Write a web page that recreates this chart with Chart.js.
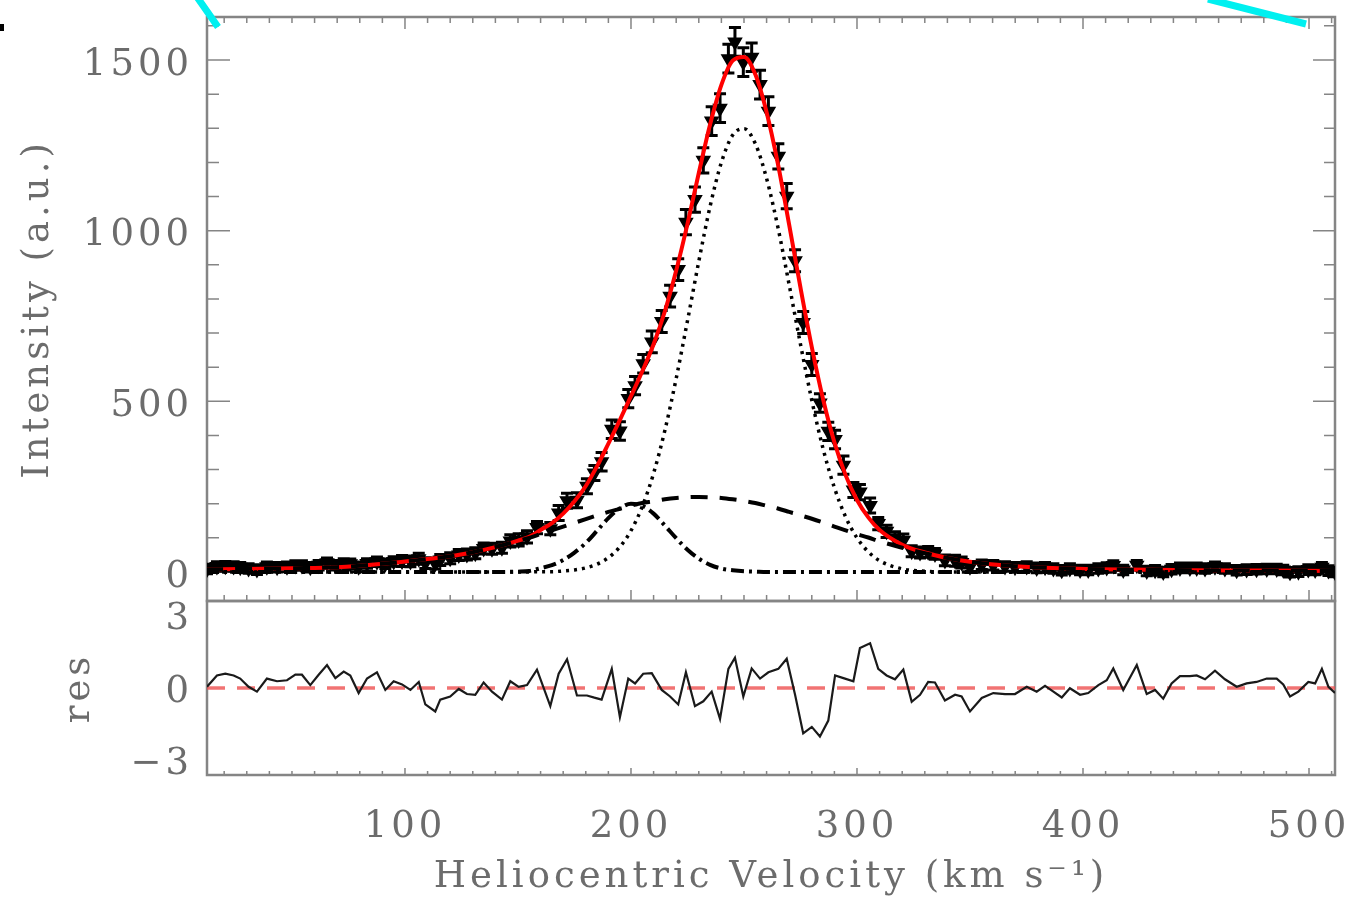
<!DOCTYPE html>
<html>
<head>
<meta charset="utf-8">
<title>Line profile fit</title>
<script src="https://cdn.jsdelivr.net/npm/chart.js@4.4.1/dist/chart.umd.min.js"></script>
<style>
  html, body { margin: 0; padding: 0; background: #fff; }
  #wrap { position: relative; width: 1353px; height: 900px; overflow: hidden; }
  #wrap canvas { position: absolute; left: 0; top: 0; }
</style>
</head>
<body>
<div id="wrap">
  <canvas id="spectrum" width="1353" height="900"></canvas>
  <canvas id="residuals" width="1353" height="900"></canvas>
</div>
<script>
// observed channels (km/s), intensity, 1-sigma error and normalised residual
const velocity = [
  12.4, 16.8, 20.5, 24.2, 27.1, 30.8, 34.5, 38.9, 43.4, 47.8,
  51.5, 54.4, 58.1, 61.8, 65.5, 69.2, 72.9, 75.8, 79.5, 83.2,
  87.6, 91.3, 95.0, 98.7, 102.4, 106.1, 109.0, 113.4, 115.6, 120.0,
  123.8, 127.4, 131.1, 134.8, 138.5, 142.9, 146.6, 150.3, 154.0, 158.4,
  164.3, 168.0, 171.7, 176.1, 180.5, 183.8, 187.0, 191.5, 195.1, 198.8,
  201.8, 205.4, 209.2, 213.6, 217.3, 220.9, 224.3, 228.3, 232.0, 235.7,
  239.4, 243.1, 246.0, 249.7, 253.4, 257.1, 260.8, 265.2, 268.9, 272.6,
  276.2, 280.0, 283.6, 287.3, 290.3, 294.0, 298.4, 301.3, 305.8, 309.4,
  313.1, 316.8, 320.5, 324.2, 327.9, 331.5, 334.5, 338.9, 343.4, 346.3,
  350.0, 355.2, 360.3, 365.5, 369.9, 375.1, 379.5, 383.2, 386.9, 390.6,
  394.2, 398.7, 402.3, 406.8, 410.5, 413.4, 417.8, 423.8, 428.2, 431.9,
  435.5, 439.2, 442.9, 447.3, 450.3, 454.0, 458.4, 462.8, 468.0, 472.4,
  476.8, 481.3, 485.7, 488.6, 491.6, 495.3, 499.7, 502.7, 505.7, 508.6,
  511.5
];
const intensity = [
  9, 16, 17, 16, 14, 10, 7, 15, 14, 15,
  19, 19, 14, 20, 27, 20, 25, 24, 15, 25,
  30, 24, 31, 32, 31, 39, 26, 25, 35, 40,
  50, 51, 55, 69, 68, 71, 91, 94, 103, 130,
  127, 173, 209, 210, 251, 290, 323, 418, 413, 508,
  546, 610, 674, 734, 808, 886, 1025, 1091, 1206, 1321,
  1359, 1504, 1553, 1494, 1508, 1428, 1350, 1218, 1101, 912,
  731, 608, 495, 412, 388, 313, 240, 234, 195, 142,
  119, 100, 93, 61, 57, 59, 53, 34, 33, 28,
  15, 21, 20, 16, 14, 16, 12, 14, 10, 5,
  10, 6, 6, 10, 13, 19, 6, 20, 3, 5,
  0, 8, 12, 12, 12, 10, 15, 10, 5, 7,
  8, 9, 9, 6, -1, 1, 7, 6, 14, 4,
  0
];
const intensityErr = [
  14, 14, 14, 14, 14, 14, 14, 14, 14, 14,
  14, 14, 14, 14, 14, 14, 14, 14, 14, 14,
  14, 14, 14, 16, 16, 16, 16, 16, 16, 16,
  16, 16, 16, 16, 16, 16, 18, 18, 18, 18,
  18, 22, 22, 22, 22, 22, 27, 27, 27, 27,
  27, 27, 32, 32, 32, 32, 37, 37, 37, 42,
  42, 42, 42, 42, 42, 42, 42, 37, 37, 32,
  32, 32, 27, 27, 27, 27, 22, 22, 22, 18,
  18, 18, 18, 16, 16, 16, 16, 16, 16, 16,
  16, 14, 14, 14, 14, 14, 14, 14, 14, 14,
  14, 14, 14, 14, 14, 14, 14, 14, 14, 14,
  14, 14, 14, 14, 14, 14, 14, 14, 14, 14,
  14, 14, 14, 14, 14, 14, 14, 14, 14, 14,
  14
];
const residual = [
  0.05, 0.52, 0.59, 0.52, 0.39, 0.05, -0.15, 0.39, 0.28, 0.32,
  0.55, 0.55, 0.12, 0.55, 0.95, 0.41, 0.68, 0.52, -0.21, 0.39,
  0.65, -0.08, 0.28, 0.15, -0.08, 0.25, -0.68, -0.97, -0.48, -0.35,
  -0.04, -0.25, -0.28, 0.23, -0.15, -0.48, 0.28, 0.05, 0.12, 0.76,
  -0.75, 0.59, 1.19, -0.31, -0.31, -0.40, -0.48, 0.79, -1.21, 0.39,
  0.19, 0.59, 0.61, -0.08, -0.35, -0.68, 0.65, -0.75, -0.55, -0.15,
  -1.28, 0.79, 1.25, -0.35, 0.81, 0.39, 0.65, 0.79, 1.21, -0.28,
  -1.88, -1.61, -2.01, -1.35, 0.52, 0.41, 0.28, 1.65, 1.85, 0.79,
  0.52, 0.36, 0.76, -0.57, -0.28, 0.25, 0.23, -0.52, -0.28, -0.35,
  -0.97, -0.41, -0.21, -0.25, -0.25, 0.05, -0.15, 0.09, -0.15, -0.39,
  -0.01, -0.28, -0.21, 0.12, 0.32, 0.81, -0.08, 0.95, -0.25, -0.08,
  -0.44, 0.19, 0.49, 0.49, 0.52, 0.36, 0.72, 0.36, 0.05, 0.19,
  0.25, 0.39, 0.39, 0.15, -0.35, -0.15, 0.25, 0.19, 0.79, 0.05,
  -0.21
];

// fitted model, sampled on its own velocity grid
const modelVel = [
  12, 30, 50, 70, 90, 110, 120, 130, 140,
  150, 155, 160, 165, 170, 175, 180, 185, 190, 195,
  200, 205, 210, 215, 220, 225, 230, 235, 240, 245,
  250, 255, 260, 265, 270, 275, 280, 285, 290, 295,
  300, 305, 310, 320, 330, 340, 350, 370, 390, 420,
  450, 480, 512
];
const fitTotal = [
  8, 9, 11, 14, 24, 38, 46, 58, 73,
  92, 103, 123, 143, 171, 207, 252, 310, 376, 444,
  515, 588, 667, 764, 883, 1020, 1169, 1311, 1427, 1498,
  1509, 1458, 1347, 1196, 1017, 833, 659, 506, 380, 283,
  211, 160, 123, 80, 57, 41, 30, 17, 11, 7,
  5, 4, 3
];
const broadGauss = [
  8, 9, 11, 14, 24, 38, 46, 58, 73,
  91, 100, 111, 122, 133, 144, 155, 166, 176, 185,
  194, 202, 207, 213, 217, 219, 220, 219, 217, 213,
  208, 202, 194, 186, 176, 166, 156, 145, 133, 122,
  111, 101, 90, 71, 55, 41, 30, 17, 11, 7,
  5, 4, 3
];
const narrowGauss = [
  0, 0, 0, 0, 0, 0, 0, 0, 0,
  0, 0, 1, 1, 3, 6, 12, 23, 42, 73,
  121, 192, 289, 415, 567, 736, 910, 1071, 1200, 1280,
  1299, 1255, 1153, 1010, 841, 667, 503, 361, 247, 161,
  100, 59, 33, 9, 2, 0, 0, 0, 0, 0,
  0, 0, 0
];
const secondGauss = [
  0, 0, 0, 0, 0, 0, 0, 0, 0,
  1, 3, 11, 20, 35, 57, 85, 121, 158, 186,
  200, 194, 171, 136, 99, 65, 39, 21, 10, 5,
  2, 1, 0, 0, 0, 0, 0, 0, 0, 0,
  0, 0, 0, 0, 0, 0, 0, 0, 0, 0,
  0, 0, 0
];

const intensityTicks = [0, 500, 1000, 1500];
const resTicks = [-3, 0, 3];
const velTicks = [100, 200, 300, 400, 500];
const zeroLineVel = [12.4, 511.5];
const zeroLineRes = [0, 0];

const AXIS_GREY = '#858585';
const TEXT_GREY = '#6c6c6c';
const SERIF = "'DejaVu Serif', 'Liberation Serif', serif";
const FONT_SIZE = 37;

function pts(xs, ys) {
  return xs.map((x, i) => ({ x: x, y: ys[i] }));
}

// wide letter spacing, like the old vector fonts
const spacedText = {
  id: 'spacedText',
  beforeDraw(chart) { chart.ctx.letterSpacing = '4px'; }
};

// IDL style frame: box round the plot area with ticks pointing inward
const idlAxes = {
  id: 'idlAxes',
  beforeDatasetsDraw(chart, args, opts) {
    const { ctx, chartArea: a, scales: { x, y } } = chart;
    ctx.save();
    ctx.strokeStyle = AXIS_GREY;
    ctx.lineWidth = 1.5;
    ctx.beginPath();
    const i0 = Math.ceil(x.min / 10), i1 = Math.floor(x.max / 10);
    for (let i = i0; i <= i1; i++) {
      const px = x.getPixelForValue(i * 10);
      const major = i % 10 === 0;
      if (opts.bottom) {
        ctx.moveTo(px, a.bottom);
        ctx.lineTo(px, a.bottom - (major ? opts.bottom[0] : opts.bottom[1]));
      }
      if (opts.top) {
        ctx.moveTo(px, a.top);
        ctx.lineTo(px, a.top + (major ? opts.top[0] : opts.top[1]));
      }
    }
    if (opts.yMinor) {
      const j0 = Math.ceil(y.min / opts.yMinor), j1 = Math.floor(y.max / opts.yMinor);
      const per = opts.yMajor / opts.yMinor;
      for (let j = j0; j <= j1; j++) {
        const py = y.getPixelForValue(j * opts.yMinor);
        const major = j % per === 0;
        if (opts.left) {
          ctx.moveTo(a.left, py);
          ctx.lineTo(a.left + (major ? opts.left[0] : opts.left[1]), py);
        }
        if (opts.right) {
          ctx.moveTo(a.right, py);
          ctx.lineTo(a.right - (major ? opts.right[0] : opts.right[1]), py);
        }
      }
    }
    ctx.stroke();
    ctx.lineWidth = 2.5;
    ctx.strokeRect(a.left, a.top, a.right - a.left, a.bottom - a.top);
    ctx.restore();
  }
};

// vertical error bars with caps, drawn just before the data symbols
const errorBars = {
  id: 'errorBars',
  beforeDatasetDraw(chart, args) {
    if (args.index !== 0) return;
    const { ctx, chartArea: a, scales: { x, y } } = chart;
    ctx.save();
    ctx.beginPath();
    ctx.rect(a.left, a.top, a.right - a.left, a.bottom - a.top);
    ctx.clip();
    ctx.strokeStyle = '#000';
    ctx.lineWidth = 3;
    ctx.beginPath();
    velocity.forEach((v, i) => {
      const px = x.getPixelForValue(v);
      const hi = y.getPixelForValue(intensity[i] + intensityErr[i]);
      const lo = y.getPixelForValue(intensity[i] - intensityErr[i]);
      ctx.moveTo(px, hi); ctx.lineTo(px, lo);
      ctx.moveTo(px - 6, hi); ctx.lineTo(px + 6, hi);
      ctx.moveTo(px - 6, lo); ctx.lineTo(px + 6, lo);
    });
    ctx.stroke();
    ctx.restore();
  }
};

// bits of the surrounding figure that show in the crop
const cropMarks = {
  id: 'cropMarks',
  afterDraw(chart) {
    const ctx = chart.ctx;
    ctx.save();
    ctx.strokeStyle = '#00f0f0';
    ctx.lineWidth = 7;
    ctx.beginPath();
    ctx.moveTo(197, -3); ctx.lineTo(218, 27);
    ctx.moveTo(1208, -1); ctx.lineTo(1306, 24);
    ctx.stroke();
    ctx.fillStyle = '#000';
    ctx.fillRect(0, 24, 4, 7);
    ctx.restore();
  }
};

function noPad(s) {
  s.paddingTop = 0; s.paddingBottom = 0; s.paddingLeft = 0; s.paddingRight = 0;
}

const tickFont = { family: SERIF, size: FONT_SIZE };

new Chart(document.getElementById('spectrum'), {
  type: 'line',
  data: {
    datasets: [
      {
        label: 'data',
        data: pts(velocity, intensity),
        showLine: false,
        pointStyle: 'triangle',
        rotation: 180,
        pointRadius: 7.5,
        pointBorderWidth: 1.5,
        backgroundColor: '#000',
        borderColor: '#000',
        order: 6
      },
      {
        label: 'total fit',
        data: pts(modelVel, fitTotal),
        borderColor: '#ff0000',
        borderWidth: 4,
        pointRadius: 0,
        cubicInterpolationMode: 'monotone',
        order: 5
      },
      {
        label: 'narrow',
        data: pts(modelVel, narrowGauss),
        borderColor: '#000',
        borderWidth: 3.5,
        borderDash: [3, 5],
        pointRadius: 0,
        cubicInterpolationMode: 'monotone',
        order: 3
      },
      {
        label: 'broad',
        data: pts(modelVel, broadGauss),
        borderColor: '#000',
        borderWidth: 4,
        borderDash: [17, 12],
        pointRadius: 0,
        cubicInterpolationMode: 'monotone',
        order: 2
      },
      {
        label: 'second',
        data: pts(modelVel, secondGauss),
        borderColor: '#000',
        borderWidth: 4,
        borderDash: [13, 5, 3, 5],
        pointRadius: 0,
        cubicInterpolationMode: 'monotone',
        order: 1
      }
    ]
  },
  options: {
    responsive: false,
    animation: false,
    devicePixelRatio: 1,
    events: [],
    layout: { autoPadding: false, padding: { left: 0, top: 17, right: 18, bottom: 299 } },
    plugins: {
      legend: { display: false },
      tooltip: { enabled: false },
      idlAxes: { top: [12, 6], bottom: [11, 6], left: [23, 12], right: [22, 11], yMinor: 100, yMajor: 500 }
    },
    scales: {
      x: { type: 'linear', min: 12.4, max: 511.5, display: false },
      y: {
        type: 'linear',
        min: -85,
        max: 1626,
        afterBuildTicks: s => { s.ticks = intensityTicks.map(v => ({ value: v })); },
        afterFit: s => { s.width = 207; noPad(s); },
        grid: { display: false, drawTicks: false },
        border: { display: false },
        ticks: { font: tickFont, color: TEXT_GREY, padding: 14, labelOffset: 5, callback: v => String(v) },
        title: {
          display: true,
          text: 'Intensity (a.u.)',
          font: tickFont,
          color: TEXT_GREY,
          padding: { top: 16, bottom: 0 }
        }
      }
    }
  },
  plugins: [spacedText, idlAxes, errorBars, cropMarks]
});

new Chart(document.getElementById('residuals'), {
  type: 'line',
  data: {
    datasets: [
      {
        label: 'residual',
        data: pts(velocity, residual),
        borderColor: '#1a1a1a',
        borderWidth: 2.2,
        pointRadius: 0,
        tension: 0,
        order: 1
      },
      {
        label: 'zero',
        data: pts(zeroLineVel, zeroLineRes),
        borderColor: 'rgba(238, 80, 80, 0.8)',
        borderWidth: 3.5,
        borderDash: [18, 12],
        pointRadius: 0,
        order: 2
      }
    ]
  },
  options: {
    responsive: false,
    animation: false,
    devicePixelRatio: 1,
    events: [],
    layout: { autoPadding: false, padding: { left: 0, top: 601, right: 18, bottom: 0 } },
    plugins: {
      legend: { display: false },
      tooltip: { enabled: false },
      idlAxes: { bottom: [7, 4] }
    },
    scales: {
      x: {
        type: 'linear',
        min: 12.4,
        max: 511.5,
        afterBuildTicks: s => { s.ticks = velTicks.map(v => ({ value: v })); },
        afterFit: s => { s.height = 125; noPad(s); },
        grid: { display: false, drawTicks: false },
        border: { display: false },
        ticks: { font: tickFont, color: TEXT_GREY, padding: 30, maxRotation: 0, callback: v => String(v) },
        title: {
          display: true,
          text: 'Heliocentric Velocity (km s\u207B\u00B9)',
          font: tickFont,
          color: TEXT_GREY,
          padding: { top: 0, bottom: 0 }
        }
      },
      y: {
        type: 'linear',
        min: -3.6,
        max: 3.6,
        afterBuildTicks: s => { s.ticks = resTicks.map(v => ({ value: v })); },
        afterFit: s => { s.width = 207; noPad(s); },
        grid: { display: false, drawTicks: false },
        border: { display: false },
        ticks: {
          font: tickFont,
          color: TEXT_GREY,
          padding: 14,
          labelOffset: 4,
          callback: v => (v < 0 ? '\u2212' + Math.abs(v) : String(v))
        },
        title: {
          display: true,
          text: 'res',
          font: tickFont,
          color: TEXT_GREY,
          padding: { top: 57, bottom: 0 }
        }
      }
    }
  },
  plugins: [spacedText, idlAxes]
});
</script>
</body>
</html>
